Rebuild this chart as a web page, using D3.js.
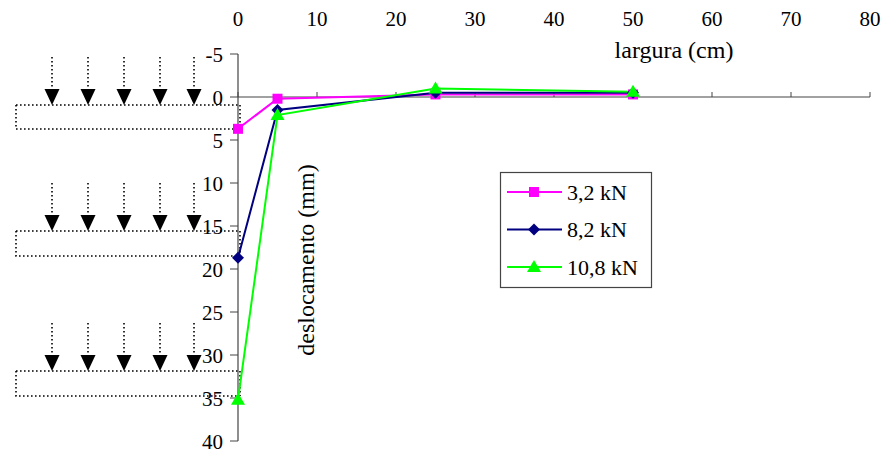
<!DOCTYPE html>
<html><head><meta charset="utf-8">
<script src="https://cdn.jsdelivr.net/npm/d3@7"></script>
<style>body{margin:0;background:#fff}svg{display:block}
svg text{font-family:"Liberation Serif","Times New Roman",Tinos,"DejaVu Serif",serif;}</style>
</head><body>
<svg id="c" width="884" height="452"></svg>
<script>
const xValues = [0, 5, 25, 50];
const seriesNames = ["3,2 kN", "8,2 kN", "10,8 kN"];
const s32 = [3.7, 0.2, -0.3, -0.3];
const s82 = [18.7, 1.5, -0.5, -0.5];
const s108 = [35.2, 2.1, -1.0, -0.6];
const xTicks = [0, 10, 20, 30, 40, 50, 60, 70, 80];
const yTicks = [-5, 0, 5, 10, 15, 20, 25, 30, 35, 40];
const colors = ["#ff00ff", "#000080", "#00ff00"];

const svg = d3.select("#c");
const x = d3.scaleLinear().domain([0, 80]).range([238, 870]);
const y = d3.scaleLinear().domain([-5, 40]).range([54, 441]);

// decorative load sketches (dotted plate + arrows), tied to the y scale
const plates = [[0.93, 3.72], [15.58, 18.49], [31.86, 34.77]];
const arrowX = [52, 88, 124, 160, 194];
const deco = svg.append("g");
plates.forEach(([top, bot]) => {
  const yt = y(top), yb = y(bot);
  deco.append("path")
    .attr("d", `M16,${yt}H240M16,${yt}V${yb}H240M240,${yt}V${yb}`)
    .attr("fill", "none").attr("stroke", "#000").attr("stroke-width", 1.6)
    .attr("stroke-dasharray", "1.6,2.4");
  arrowX.forEach(ax => {
    deco.append("line").attr("x1", ax).attr("x2", ax)
      .attr("y1", yt - 48).attr("y2", yt - 14)
      .attr("stroke", "#000").attr("stroke-width", 1.6).attr("stroke-dasharray", "1.6,2.4");
    deco.append("path")
      .attr("d", `M${ax - 7.5},${yt - 16}L${ax + 7.5},${yt - 16}L${ax},${yt}Z`)
      .attr("fill", "#000");
  });
});

// axes
const ax = svg.append("g");
ax.append("line").attr("x1", x(0)).attr("x2", x(80)).attr("y1", y(0)).attr("y2", y(0))
  .attr("stroke", "#444").attr("stroke-width", 1.2);
ax.selectAll(".xt").data(xTicks).join("line")
  .attr("x1", d => x(d)).attr("x2", d => x(d)).attr("y1", y(0) - 5).attr("y2", y(0))
  .attr("stroke", "#444").attr("stroke-width", 1);
ax.selectAll(".xl").data(xTicks).join("text")
  .attr("x", d => x(d)).attr("y", 26).attr("text-anchor", "middle")
  .attr("font-size", 21).text(d => d);

ax.append("line").attr("x1", x(0)).attr("x2", x(0)).attr("y1", y(-5)).attr("y2", y(40))
  .attr("stroke", "#444").attr("stroke-width", 1.2);
ax.selectAll(".yt").data(yTicks).join("line")
  .attr("x1", x(0) - 8).attr("x2", x(0)).attr("y1", d => y(d)).attr("y2", d => y(d))
  .attr("stroke", "#444").attr("stroke-width", 1);
ax.selectAll(".yl").data(yTicks).join("text")
  .attr("x", 223).attr("y", d => y(d) + 7.5).attr("text-anchor", "end")
  .attr("font-size", 21).text(d => d);

svg.append("text").attr("x", 674).attr("y", 58).attr("text-anchor", "middle")
  .attr("font-size", 24).text("largura (cm)");
svg.append("text").attr("transform", "translate(314,260) rotate(-90)").attr("text-anchor", "middle")
  .attr("font-size", 24).text("deslocamento (mm)");

// markers
function marker(sel, k) {
  if (k === 0) sel.append("rect").attr("x", -5).attr("y", -5).attr("width", 10).attr("height", 10).attr("fill", colors[k]);
  else if (k === 1) sel.append("path").attr("d", "M0,-6L6,0L0,6L-6,0Z").attr("fill", colors[k]);
  else sel.append("path").attr("d", "M0,-7L7,5L-7,5Z").attr("fill", colors[k]);
}

// series
const series = [s32, s82, s108];
const line = d3.line().x((d, i) => x(xValues[i])).y(d => y(d));
series.forEach((vals, k) => {
  svg.append("path").attr("d", line(vals)).attr("fill", "none")
    .attr("stroke", colors[k]).attr("stroke-width", 2);
});
series.forEach((vals, k) => {
  vals.forEach((d, i) => {
    const g = svg.append("g").attr("transform", `translate(${x(xValues[i])},${y(d)})`);
    marker(g, k);
  });
});

// legend
const lg = svg.append("g");
lg.append("rect").attr("x", 500.5).attr("y", 172.5).attr("width", 151).attr("height", 115)
  .attr("fill", "#fff").attr("stroke", "#444").attr("stroke-width", 1.2);
seriesNames.forEach((n, k) => {
  const ly = 192 + k * 37.5;
  lg.append("line").attr("x1", 507).attr("x2", 562).attr("y1", ly).attr("y2", ly)
    .attr("stroke", colors[k]).attr("stroke-width", 2);
  marker(lg.append("g").attr("transform", `translate(534,${ly})`), k);
  lg.append("text").attr("x", 567).attr("y", ly + 7.5).attr("font-size", 22).text(n);
});
</script>
</body></html>
